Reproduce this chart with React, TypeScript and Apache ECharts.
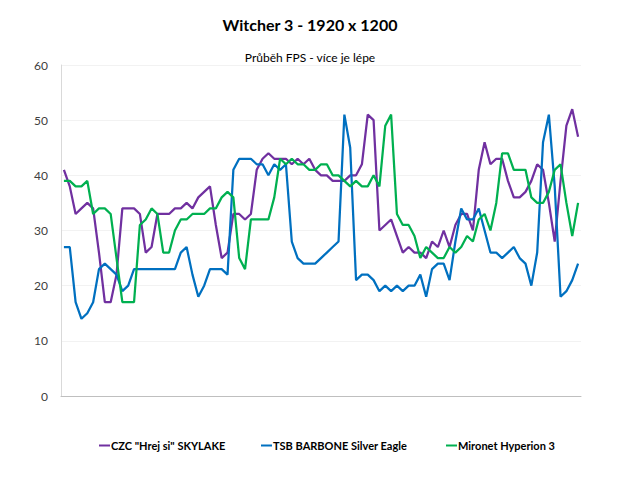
import React, { useEffect, useRef } from "react";
import * as echarts from "echarts";

const TITLE = "Witcher 3 - 1920 x 1200";
const SUBTITLE = "Průběh FPS - více je lépe";
const SERIES_NAMES = ['CZC "Hrej si" SKYLAKE', "TSB BARBONE Silver Eagle", "Mironet Hyperion 3"];
const Y_TICKS = [0, 10, 20, 30, 40, 50, 60];

const czc = [
  41, 38, 33, 34, 35, 34, 26, 17, 17, 22, 34, 34, 34, 33, 26, 27, 33, 33, 33, 34,
  34, 35, 34, 36, 37, 38, 31, 25, 26, 33, 33, 32, 33, 41, 43, 44, 43, 43, 43, 42,
  43, 42, 43, 41, 40, 40, 39, 39, 39, 40, 40, 42, 51, 50, 30, 31, 32, 29, 26, 27,
  26, 26, 25, 28, 27, 30, 27, 31, 33, 33, 30, 41, 46, 42, 43, 43, 39, 36, 36, 37,
  39, 42, 41, 35, 28, 39, 49, 52, 47,
];
const tsb = [
  27, 27, 17, 14, 15, 17, 23, 24, 23, 22, 19, 20, 23, 23, 23, 23, 23, 23, 23, 23,
  26, 27, 22, 18, 20, 23, 23, 23, 22, 41, 43, 43, 43, 42, 42, 40, 42, 41, 42, 28,
  25, 24, 24, 24, 25, 26, 27, 28, 51, 45, 21, 22, 22, 21, 19, 20, 19, 20, 19, 20,
  20, 22, 18, 23, 24, 24, 21, 28, 34, 32, 32, 34, 30, 26, 26, 25, 26, 27, 25, 24,
  20, 26, 46, 51, 38, 18, 19, 21, 24,
];
const mironet = [
  39, 39, 38, 38, 39, 33, 34, 34, 33, 25, 17, 17, 17, 31, 32, 34, 33, 26, 26, 30,
  32, 32, 33, 33, 33, 34, 34, 36, 37, 36, 25, 23, 32, 32, 32, 32, 36, 43, 42, 43,
  42, 42, 41, 41, 42, 42, 40, 40, 39, 38, 39, 38, 38, 40, 38, 49, 51, 33, 31, 31,
  29, 25, 27, 26, 25, 25, 27, 26, 27, 29, 28, 32, 33, 30, 35, 44, 44, 41, 41, 41,
  36, 35, 35, 37, 41, 42, 35, 29, 35,
];
const categories = czc.map((_, i) => String(i + 1));

const COLORS = ["#7030A0", "#0070C0", "#00B050"];
const FONT = "Lato, 'Open Sans', sans-serif";

export default function App() {
  const ref = useRef<HTMLDivElement>(null);
  useEffect(() => {
    if (!ref.current) return;
    const chart = echarts.init(ref.current, null, { renderer: "svg" });
    const dataSets = [czc, tsb, mironet];
    const legendLefts = [94, 256, 441];
    chart.setOption({
      animation: false,
      backgroundColor: "#ffffff",
      textStyle: { fontFamily: FONT },
      title: [
        {
          text: TITLE,
          left: "center",
          top: 11,
          textStyle: { fontSize: 16, fontWeight: "bold", color: "#000", fontFamily: FONT },
        },
        {
          text: SUBTITLE,
          left: "center",
          top: 46,
          textStyle: { fontSize: 12, fontWeight: "normal", color: "#000", fontFamily: FONT },
        },
      ],
      legend: SERIES_NAMES.map((n, i) => ({
        data: [n],
        left: legendLefts[i],
        top: 435,
        icon: "rect",
        itemWidth: 11,
        itemHeight: 2,
        itemGap: 2,
        textStyle: { fontSize: 11, fontWeight: "bold", color: "#000", fontFamily: FONT, padding: [0, 0, 0, -4] },
      })),
      grid: { left: 61, right: 39, top: 65, bottom: 85, containLabel: false },
      xAxis: {
        type: "category",
        data: categories,
        boundaryGap: true,
        axisLine: { show: true, lineStyle: { color: "#BFBFBF", width: 1 } },
        axisTick: { show: false },
        axisLabel: { show: false },
        splitLine: { show: false },
      },
      yAxis: {
        type: "value",
        min: Y_TICKS[0],
        max: Y_TICKS[Y_TICKS.length - 1],
        interval: 10,
        axisLine: { show: true, lineStyle: { color: "#D9D9D9", width: 1 } },
        axisTick: { show: false },
        axisLabel: { color: "#404040", fontSize: 12, margin: 13, fontFamily: FONT },
        splitLine: { show: true, lineStyle: { color: "#F2F2F2", width: 1 } },
      },
      series: SERIES_NAMES.map((n, i) => ({
        name: n,
        type: "line",
        data: dataSets[i],
        showSymbol: false,
        symbol: "none",
        lineStyle: { color: COLORS[i], width: 2.25 },
        itemStyle: { color: COLORS[i] },
      })),
    });
    return () => chart.dispose();
  }, []);
  return <div ref={ref} style={{ width: 620, height: 481, position: "absolute", left: 0, top: 0 }} />;
}
